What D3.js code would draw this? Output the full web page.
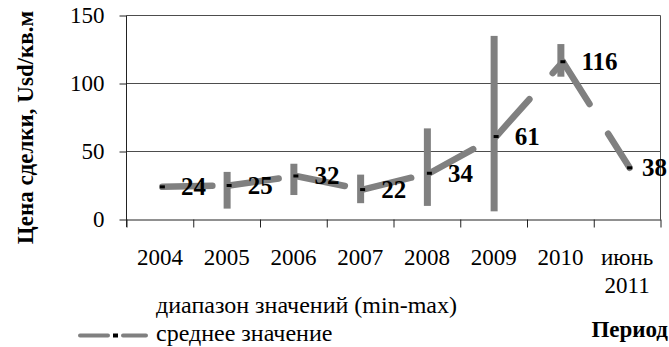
<!DOCTYPE html>
<html><head><meta charset="utf-8">
<script src="https://cdn.jsdelivr.net/npm/d3@7"></script>
<style>
html,body{margin:0;padding:0;background:#fff;}
svg{display:block;}
text{font-family:"Liberation Serif","Times New Roman",serif;fill:#000;}
</style></head>
<body>
<svg id="chart" width="669" height="347"></svg>
<script>
const categories = ["2004","2005","2006","2007","2008","2009","2010","июнь 2011"];
const meanValues = [24,25,32,22,34,61,116,38];
const minValues = [null,8,18,12,10,6,105,null];
const maxValues = [null,35,41,33,67,135,129,null];
const yTicks = [0,50,100,150];
const yTitle = "Цена сделки, Usd/кв.м";
const xTitle = "Период";
const legendRange = "диапазон значений (min-max)";
const legendMean = "среднее значение";

(function () {
const svg = d3.select("#chart");
const W = 669, H = 347;
const pLeft = 126.5, pRight = 660.5, pTop = 15.5, pBottom = 219.5;

const x = d3.scaleLinear().domain([0, categories.length]).range([pLeft, pRight]);
const y = d3.scaleLinear().domain([0, 150]).range([pBottom, pTop]);
const grey = "#808080";

// gridlines
svg.append("g").selectAll("line").data(yTicks.filter(v => v > 0)).join("line")
  .attr("x1", pLeft).attr("x2", pRight)
  .attr("y1", d => y(d)).attr("y2", d => y(d))
  .attr("stroke", "#4d4d4d").attr("stroke-width", 1);
// right border
svg.append("line").attr("x1", pRight).attr("x2", pRight).attr("y1", pTop).attr("y2", pBottom)
  .attr("stroke", "#4d4d4d").attr("stroke-width", 1);

// y axis
const yAxis = svg.append("g").attr("transform", `translate(${pLeft},0)`)
  .call(d3.axisLeft(y).tickValues(yTicks).tickSize(7).tickSizeOuter(0).tickPadding(15));
yAxis.select(".domain").attr("stroke", "#222").attr("d", `M0,${pTop}V${pBottom + 7.5}`);
yAxis.selectAll(".tick line").attr("stroke", "#222");
yAxis.selectAll(".tick text").style("font-size", "23px").attr("font-family", "Liberation Serif");

// x axis (boundary ticks)
const xAxis = svg.append("g").attr("transform", `translate(0,${pBottom})`)
  .call(d3.axisBottom(x).tickValues(d3.range(0, categories.length + 1)).tickSize(8).tickSizeOuter(0).tickFormat(""));
xAxis.select(".domain").attr("stroke", "#222");
xAxis.selectAll(".tick line").attr("stroke", "#222");

// category labels
const catG = svg.append("g");
categories.forEach((c, i) => {
  const parts = c.split(" ");
  const t = catG.append("text").attr("text-anchor", "middle").style("font-size", "23px")
    .attr("x", x(i + 0.5)).attr("y", 265);
  parts.forEach((p, j) => {
    t.append("tspan").attr("x", x(i + 0.5)).attr("dy", j === 0 ? 0 : 28).text(p);
  });
});

// range bars
const barOff = 0.5;
svg.append("g").selectAll("rect").data(categories.map((c, i) => ({i, lo: minValues[i], hi: maxValues[i]})).filter(d => d.lo != null))
  .join("rect")
  .attr("x", d => x(d.i + 0.5) + barOff - 3.5).attr("width", 7)
  .attr("y", d => y(d.hi)).attr("height", d => y(d.lo) - y(d.hi))
  .attr("fill", grey);

// mean line segments (pattern restarts per segment)
const ptOff = 2.5;
const pts = meanValues.map((v, i) => [x(i + 0.5) + ptOff, y(v)]);
const segG = svg.append("g");
for (let i = 0; i < pts.length - 1; i++) {
  segG.append("path").attr("d", d3.line()([pts[i], pts[i + 1]]))
    .attr("fill", "none").attr("stroke", grey).attr("stroke-width", 6.5)
    .attr("stroke-linecap", "round").attr("stroke-dasharray", "50,35");
}
// markers
svg.append("g").selectAll("rect").data(pts).join("rect")
  .attr("x", d => d[0] - 2.5).attr("y", d => d[1] - 1.5).attr("width", 5).attr("height", 3).attr("fill", "#000");

// data labels
const lblG = svg.append("g");
meanValues.forEach((v, i) => {
  const t = lblG.append("text").style("font-size", "25px").style("font-weight", "bold")
    .attr("x", pts[i][0] + 18.5).attr("y", pts[i][1]).attr("dy", "0.34em").text(v);
  const w = t.node().getComputedTextLength();
  if (pts[i][0] + 18.5 + w > W - 2) t.attr("x", W - 2 - w);
});

// y title
svg.append("text").attr("transform", "translate(33,127.5) rotate(-90)")
  .attr("text-anchor", "middle").style("font-size", "23px").style("font-weight", "bold").text(yTitle);

// x title
svg.append("text").attr("x", 668).attr("y", 337).attr("text-anchor", "end")
  .style("font-size", "23px").style("font-weight", "bold").text(xTitle);

// legend
svg.append("text").attr("x", 156).attr("y", 313).style("font-size", "24px").text(legendRange);
const ly = 335.5;
svg.append("line").attr("x1", 80).attr("x2", 108).attr("y1", ly).attr("y2", ly)
  .attr("stroke", grey).attr("stroke-width", 4).attr("stroke-linecap", "round");
svg.append("rect").attr("x", 113).attr("y", ly - 2).attr("width", 5).attr("height", 4).attr("fill", "#000");
svg.append("line").attr("x1", 123).attr("x2", 146).attr("y1", ly).attr("y2", ly)
  .attr("stroke", grey).attr("stroke-width", 4).attr("stroke-linecap", "round");
svg.append("text").attr("x", 156).attr("y", 341).style("font-size", "24px").text(legendMean);
})();
</script>
</body></html>
